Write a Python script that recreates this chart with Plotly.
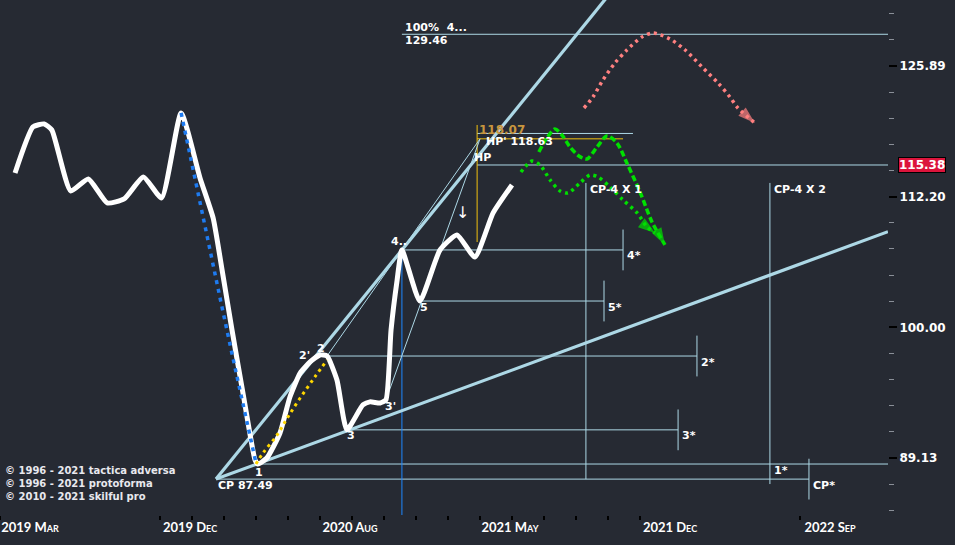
import numpy as np
import plotly.graph_objects as go

BG = "#262a33"
LB = "#add8e6"
TXT = "#ffffff"

# x axis: one unit per bar/tick, y axis: price on a log scale
tick_pos = [0, 5, 6, 7, 8, 9, 10, 11, 12, 13, 14, 15, 16, 17, 18, 19, 20, 25]
tick_names = {0: "2019 Mar", 5: "2019 Dec", 10: "2020 Aug", 15: "2021 May",
              20: "2021 Dec", 25: "2022 Sep"}
price_ticks = [89.13, 100.00, 112.20, 125.89]
last_price = 115.38
x_end = 27.75

# main price path
price_x = [0.47, 1.03, 1.38, 1.62, 2.21, 2.76, 3.35, 3.88, 4.48, 5.05, 5.66,
           6.25, 6.66, 6.94, 7.25, 7.63, 7.97, 8.06, 8.34, 8.75, 9.06, 9.38,
           9.69, 10.0, 10.22, 10.53, 10.84, 11.34, 11.56, 11.88, 12.06, 12.22,
           12.41, 12.56, 13.12, 13.75, 14.28, 14.84, 15.41, 16.0]
price_y = [114.57, 119.31, 119.63, 118.99, 112.77, 113.97, 111.59, 111.98,
           114.17, 112.08, 120.79, 114.07, 110.12, 105.19, 99.77, 93.81, 88.98,
           88.66, 89.13, 91.12, 94.05, 96.06, 97.00, 97.60, 97.51, 95.47, 91.37,
           93.40, 93.65, 93.56, 93.81, 99.77, 104.26, 107.06, 102.35, 107.06,
           108.48, 106.39, 110.61, 113.37]

# wave count pivots
pivot_x = {"CP": 6.75, "1": 8.06, "2": 10.22, "3": 10.84, "3'": 12.06, "4": 12.56, "5": 13.12}
pivot_y = {"CP": 87.49, "1": 88.66, "2": 97.51, "3": 91.37, "3'": 93.81, "4": 107.06, "5": 102.35}

# projected levels from pivots
level_name = ["4*", "5*", "2*", "3*", "1*", "CP*"]
level_from = ["4", "5", "2", "3", "1", "CP"]
level_stop = [19.47, 18.875, 21.78, 21.19, x_end, 25.28]

# time projections
cp4_x = [18.31, 24.06]
cp4_name = ["CP-4 X 1", "CP-4 X 2"]
cp4_top = 113.57
cp4_bottom = [87.49, 87.11]

# targets
hp_x = 14.91
hp_level = 115.38
hp2_level = 118.63
hp2_stop = 19.78
yel_level = 118.07
yel_stop = 19.47
yel_top, yel_bottom = 119.52, 107.81
target_level = 129.46
apex_x, apex_y = 15.0, 118.07
lower_trend_end = 108.8

# guide paths
blue_x = [5.66, 6.34, 7.09, 8.0]
blue_y = [120.79, 110.31, 99.77, 88.74]
gold_x = [8.0, 8.22, 8.66, 9.0, 9.38, 9.84, 10.22]
gold_y = [88.66, 89.53, 90.96, 92.42, 93.97, 95.73, 97.17]
gdash_x = [16.84, 17.09, 17.34, 17.56, 17.81, 18.09, 18.34, 18.66, 18.97, 19.28,
           19.59, 20.0, 20.375, 20.78]
gdash_y = [116.71, 118.16, 119.10, 118.47, 117.23, 116.30, 115.99, 117.23, 118.37,
           117.64, 115.58, 112.67, 109.73, 107.53]
gdot_x = [16.28, 16.625, 16.875, 17.19, 17.5, 17.75, 18.125, 18.44, 18.69, 19.06,
          19.47, 19.91, 20.22, 20.47]
gdot_y = [114.67, 115.78, 115.38, 113.87, 112.77, 112.57, 113.57, 114.37, 114.17,
          113.17, 111.88, 110.61, 109.25, 108.68]
red_x = [18.25, 18.53, 18.84, 19.22, 19.59, 20.06, 20.41, 20.94, 21.41, 21.94,
         22.44, 22.81, 23.06, 23.59]
red_y = [121.32, 122.50, 124.35, 126.23, 127.68, 129.15, 129.61, 128.92, 127.68,
         125.78, 124.02, 122.50, 121.32, 119.73]

TICK = 10 ** 0.0078

fig = go.Figure()


def line(x, y, color=LB, width=1, dash=None, shape="linear", smoothing=1):
    fig.add_trace(go.Scatter(x=x, y=y, mode="lines",
                             line=dict(color=color, width=width, dash=dash, shape=shape,
                                       smoothing=smoothing),
                             hoverinfo="skip", showlegend=False))


def note(text, x, y, size=11, color=TXT, xanchor="left", xshift=0, yshift=0, xref="x"):
    fig.add_annotation(text=text, x=x, y=np.log10(y), xref=xref, yref="y",
                       showarrow=False, xanchor=xanchor, yanchor="middle",
                       xshift=xshift, yshift=yshift,
                       font=dict(family="DejaVu Sans", size=size, color=color))


# horizontal projections with end ticks
for name, src, stop in zip(level_name, level_from, level_stop):
    lx, ly = pivot_x[src], pivot_y[src]
    line([lx, stop], [ly, ly])
    if name == "1*":
        note("<b>1*</b>", cp4_x[1], ly, xshift=2, yshift=-6)
    else:
        line([stop, stop], [ly * TICK, ly / TICK])
        note(f"<b>{name}</b>", stop, ly, xshift=2, yshift=-6)

for cx, nm, bot in zip(cp4_x, cp4_name, cp4_bottom):
    line([cx, cx], [cp4_top, bot])
    note(f"<b>{nm}</b>", cx, cp4_top, xshift=2, yshift=-7)

# target lines
line([pivot_x["4"], x_end], [target_level, target_level])
note("<b>100%  4...</b>", pivot_x["4"], target_level, xshift=1, yshift=7)
note(f"<b>{target_level:.2f}</b>", pivot_x["4"], target_level, xshift=1, yshift=-6)
line([hp_x, x_end], [hp_level, hp_level])
line([hp_x, hp2_stop], [hp2_level, hp2_level])
line([hp_x, yel_stop], [yel_level, yel_level], color="#f2c10f")
line([hp_x, hp_x], [yel_top, yel_bottom], color="#f2c10f")
note(f"<b>{yel_level:.2f}</b>", hp_x, yel_level, size=12, color="#c8963e", xshift=0, yshift=9)
note(f"<b>HP' {hp2_level:.2f}</b>", hp_x, hp2_level, xshift=7, yshift=-8)
note("<b>HP</b>", hp_x, hp_level, xshift=-5, yshift=7)

# blue time marker at pivot 4
line([pivot_x["4"], pivot_x["4"]], [pivot_y["4"], 80], color="#1e88ff")

# thin converging lines
line([pivot_x["2"], apex_x], [pivot_y["2"], apex_y])
line([pivot_x["3'"], apex_x], [pivot_y["3'"], apex_y])

# trend lines from CP
slope = (np.log10(pivot_y["4"]) - np.log10(pivot_y["CP"])) / (pivot_x["4"] - pivot_x["CP"])
up_end = 19.3
line([pivot_x["CP"], up_end],
     [pivot_y["CP"], 10 ** (np.log10(pivot_y["CP"]) + slope * (up_end - pivot_x["CP"]))],
     width=3.2)
line([pivot_x["CP"], x_end], [pivot_y["CP"], lower_trend_end], width=3.2)

# price path
line(price_x, price_y, color="#ffffff", width=5, shape="spline", smoothing=0.5)

# dotted guides
line(blue_x, blue_y, color="#1e7bf0", width=3.5, dash="4px,5px", shape="spline")
line(gold_x, gold_y, color="#ffd700", width=3, dash="3px,4px", shape="spline")


def guide(x, y, color, dash, width):
    n = len(x)
    fig.add_trace(go.Scatter(
        x=x, y=y, mode="lines+markers",
        line=dict(color=color, width=width, dash=dash, shape="spline", smoothing=0.8),
        marker=dict(color=color, size=[9] + [0] * (n - 2) + [18],
                    symbol=["circle"] + ["circle"] * (n - 2) + ["arrow"],
                    angleref="previous", line=dict(width=0)),
        hoverinfo="skip", showlegend=False))


guide(gdash_x, gdash_y, "#00e000", "6px,3px", 3.5)
guide(gdot_x, gdot_y, "#00e000", "3px,4px", 3.5)
guide(red_x, red_y, "#ff8080", "3px,4px", 3.5)

# wave labels
note("<b>1</b>", pivot_x["1"], pivot_y["1"], xanchor="center", xshift=1, yshift=-8)
note("<b>2</b>", pivot_x["2"], pivot_y["2"], xanchor="center", xshift=-6, yshift=8)
note("<b>2'</b>", pivot_x["2"], pivot_y["2"], xanchor="center", xshift=-23, yshift=1)
note("<b>3</b>", pivot_x["3"], pivot_y["3"], xanchor="center", xshift=4, yshift=-6)
note("<b>3'</b>", pivot_x["3'"], pivot_y["3'"], xanchor="center", xshift=5, yshift=-7)
note("<b>4..</b>", pivot_x["4"], pivot_y["4"], xanchor="center", xshift=-3, yshift=8)
note("<b>5</b>", pivot_x["5"], pivot_y["5"], xanchor="center", xshift=4, yshift=-6)
note(f"<b>CP {pivot_y['CP']:.2f}</b>", pivot_x["CP"], pivot_y["CP"], xshift=0, yshift=-6)
note("↓", price_x[-4], price_y[-4], size=16, xanchor="center", xshift=6, yshift=22)

# last price box
fig.add_annotation(text=f"<b>{last_price:.2f}</b>", x=1, xref="paper", y=np.log10(last_price),
                   yref="y", xanchor="left", xshift=10, showarrow=False,
                   bgcolor="#dc143c", bordercolor="#000000", borderwidth=1, borderpad=0,
                   font=dict(family="DejaVu Sans", size=12, color="#ffffff"))

# copyright lines
for i, t in enumerate(["© 1996 - 2021 tactica adversa", "© 1996 - 2021 protoforma",
                       "© 2010 - 2021 skilful pro"]):
    fig.add_annotation(text=f"<b>{t}</b>", x=0, xref="paper", y=(515 - 470 - 13 * i) / 515,
                       yref="paper", xanchor="left", yanchor="middle", xshift=3, showarrow=False,
                       font=dict(family="DejaVu Sans", size=10, color="#e8e8ee"))


def small_caps(s):
    yr, mon = s.split()
    return f"<b>{yr} {mon[0]}<span style='font-size:9px'>{mon[1:].upper()}</span></b>"


fig.update_xaxes(range=[0, x_end], showgrid=False, zeroline=False, showline=False,
                 tickmode="array", tickvals=tick_pos,
                 ticktext=[small_caps(tick_names[t]) if t in tick_names else "" for t in tick_pos],
                 ticks="outside", ticklen=4, tickwidth=2, tickcolor="#000000",
                 ticklabelshift=30, ticklabelstandoff=-4,
                 tickfont=dict(family="Lato", size=13, color=TXT))
fig.update_yaxes(type="log", range=[1.92823, 2.12525], side="right", showgrid=False,
                 zeroline=False, showline=False, tickmode="array", tickvals=price_ticks,
                 ticktext=[f"<b>{v:.2f}</b>" for v in price_ticks],
                 ticks="outside", ticklen=8, tickwidth=2, tickcolor="#000000",
                 tickfont=dict(family="DejaVu Sans", size=12, color=TXT),
                 minor=dict(tickmode="array", tickvals=list(10 ** np.arange(1.93, 2.125, 0.01)),
                            ticks="outside", ticklen=5, tickwidth=1, tickcolor="#8a8f98"))
fig.update_layout(width=955, height=545, margin=dict(l=0, r=67, t=0, b=30, pad=0),
                  paper_bgcolor=BG, plot_bgcolor=BG, showlegend=False)

fig.write_html("out.html", config={"displayModeBar": False},
               post_script="document.body.style.margin='0';document.body.style.background='%s';" % BG)
